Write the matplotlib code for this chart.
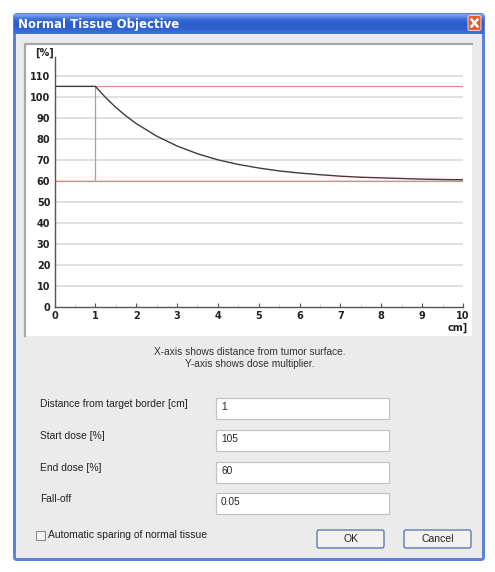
import numpy as np
import matplotlib
matplotlib.use("Agg")
from matplotlib import pyplot as plt
from matplotlib.patches import Rectangle, FancyBboxPatch

# dose curve
dist_cm = [0, 1, 1.25, 1.5, 1.75, 2, 2.5, 3, 3.5, 4, 4.5, 5, 5.5, 6, 6.5, 7, 7.5, 8, 8.5, 9, 9.5, 10]
dose_pct = [105, 105, 99.7, 95.0, 90.9, 87.3, 81.3, 76.6, 72.9, 70.0, 67.8, 66.1, 64.7, 63.7, 62.9,
            62.2, 61.7, 61.4, 61.1, 60.8, 60.6, 60.5]
start_dose = 105
end_dose = 60
border_cm = 1
x_ticks = list(range(0, 11))
y_ticks = list(range(0, 111, 10))

field_labels = ["Distance from target border [cm]", "Start dose [%]", "End dose [%]", "Fall-off"]
field_values = ["1", "105", "60", "0.05"]

W, H = 495, 572
fig = plt.figure(figsize=(W / 100, H / 100), dpi=100)
fig.patch.set_facecolor("white")

# dialog chrome drawn in pixel coordinates
bg = fig.add_axes([0, 0, 1, 1])
bg.set_xlim(0, W)
bg.set_ylim(H, 0)
bg.axis("off")

ui = "Liberation Sans"
# window frame
bg.add_patch(FancyBboxPatch((13, 13), 472, 548, boxstyle="round,pad=0,rounding_size=4",
                            facecolor="#5b82d8", edgecolor="none"))
bg.add_patch(Rectangle((16, 34), 466, 524, facecolor="#ebebeb", edgecolor="none"))
# title bar gradient
grad = np.linspace(0, 1, 22).reshape(-1, 1)
bg.imshow(grad, extent=(14, 484, 34, 14), cmap=matplotlib.colors.LinearSegmentedColormap.from_list(
    "t", ["#7ea6ee", "#3a6cd6", "#2a5ccc", "#2f62d2", "#3f72dc"]), aspect="auto", zorder=1)
bg.text(18, 24.5, "Normal Tissue Objective", color="white", fontsize=8.5, fontweight="bold",
        family="DejaVu Sans", va="center", ha="left", zorder=3)
# close button
bg.add_patch(FancyBboxPatch((468, 15.5), 13, 15, boxstyle="round,pad=0,rounding_size=2",
                            facecolor="#e2592f", edgecolor="#f3c9b8", linewidth=0.8, zorder=3))
bg.plot([471.5, 477.5], [19.5, 26.5], color="white", lw=1.8, zorder=4)
bg.plot([471.5, 477.5], [26.5, 19.5], color="white", lw=1.8, zorder=4)

# white plot panel
bg.add_patch(Rectangle((25, 44), 447, 292, facecolor="white", edgecolor="none"))
bg.plot([25, 25, 472], [336, 44, 44], color="#a8a8a8", lw=1.6)

bg.text(250, 352, "X-axis shows distance from tumor surface.", family=ui, fontsize=7.3,
        color="#333333", ha="center", va="center")
bg.text(250, 364, "Y-axis shows dose multiplier.", family=ui, fontsize=7.3,
        color="#333333", ha="center", va="center")

row_y = [408, 440, 472, 503]
for lab, val, yc in zip(field_labels, field_values, row_y):
    bg.text(40, yc - 4, lab, family=ui, fontsize=7.4, color="#222222", va="center")
    bg.add_patch(Rectangle((216, yc - 10), 173, 21, facecolor="white", edgecolor="#c4c4c4", lw=0.9))
    bg.text(221, yc - 1, val, family=ui, fontsize=7.3, color="#222222", va="center")

# checkbox
bg.add_patch(Rectangle((36, 531), 9, 9, facecolor="#f4f4f4", edgecolor="#8a8a8a", lw=0.8))
bg.text(48, 535.5, "Automatic sparing of normal tissue", family=ui, fontsize=7.5,
        color="#222222", va="center")

# buttons
for bx, txt in [(317, "OK"), (404, "Cancel")]:
    bg.add_patch(FancyBboxPatch((bx, 530), 67, 18, boxstyle="round,pad=0,rounding_size=2",
                                facecolor="#f2f2ee", edgecolor="#4d6fa8", lw=0.9))
    bg.text(bx + 33.5, 539.5, txt, family=ui, fontsize=7.5, color="#222222",
            ha="center", va="center")

# plot axes
x0, x1 = 54.5, 463
yb, yt = 306.7, 57
ax = fig.add_axes([x0 / W, (H - yb) / H, (x1 - x0) / W, (yb - yt) / H])
ax.set_facecolor("white")
ax.set_xlim(0, 10)
ax.set_ylim(0, 119)
for s in ["top", "right"]:
    ax.spines[s].set_visible(False)
for s in ["left", "bottom"]:
    ax.spines[s].set_color("#555555")
    ax.spines[s].set_linewidth(1.0)

ax.hlines(y_ticks[1:], 0, 10, color="#dadada", lw=1.2, zorder=1)
ax.hlines([start_dose], border_cm, 10, color="#e08a8a", lw=0.9, zorder=2)
ax.hlines([end_dose], 0, 10, color="#e08a8a", lw=0.9, zorder=2)
ax.vlines([border_cm], end_dose, start_dose, color="#e08a8a", lw=0.9, zorder=2)
ax.plot(dist_cm, dose_pct, color="#3c3c3c", lw=1.0, zorder=3)

ax.set_xticks(x_ticks)
ax.set_xticks(np.arange(0.5, 10, 1.0), minor=True)
ax.set_yticks(y_ticks)
ax.tick_params(axis="x", which="major", direction="in", length=3, width=0.8, color="#555555",
               pad=3, labelsize=7)
ax.tick_params(axis="x", which="minor", direction="in", length=2, width=0.6, color="#cccccc")
ax.tick_params(axis="y", which="major", length=0, pad=3, labelsize=7)
for lab in ax.get_xticklabels() + ax.get_yticklabels():
    lab.set_fontweight("bold")
    lab.set_color("#222222")

bg.text(35, 53, "[%]", fontsize=7, fontweight="bold", color="#222222", va="center", ha="left")
bg.text(468, 328, "cm]", fontsize=7, fontweight="bold", color="#222222", va="center", ha="right")

fig.savefig("out.png", dpi=100)
